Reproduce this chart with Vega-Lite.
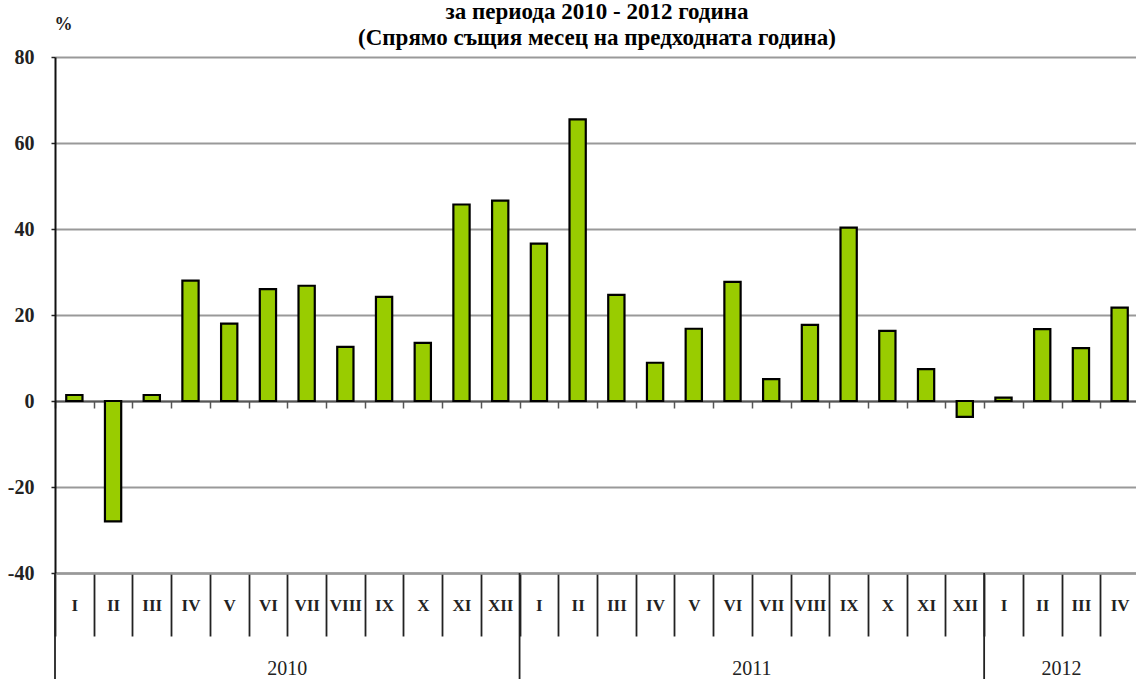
{
  "$schema": "https://vega.github.io/schema/vega-lite/v6.json",
  "autosize": {"type": "none"},
  "width": 1084,
  "height": 516,
  "padding": {"left": 55, "top": 57, "right": 0, "bottom": 106},
  "background": "white",
  "title": {
    "text": ["за периода 2010 - 2012 година", "(Спрямо същия месец на предходната година)"],
    "anchor": "middle",
    "font": "Liberation Serif",
    "fontWeight": "bold",
    "fontSize": 23,
    "lineHeight": 26,
    "color": "#000",
    "offset": -35,
    "dx": 0
  },
  "config": {
    "view": {"stroke": null},
    "axis": {"labelFont": "Liberation Serif", "titleFont": "Liberation Serif"}
  },
  "data": {
    "values": [
      {"key": "2010-I", "month": "I", "year": "2010", "value": 1.4, "start": true},
      {"key": "2010-II", "month": "II", "year": "2010", "value": -28},
      {"key": "2010-III", "month": "III", "year": "2010", "value": 1.4},
      {"key": "2010-IV", "month": "IV", "year": "2010", "value": 28},
      {"key": "2010-V", "month": "V", "year": "2010", "value": 18},
      {"key": "2010-VI", "month": "VI", "year": "2010", "value": 26},
      {"key": "2010-VII", "month": "VII", "year": "2010", "value": 26.8, "label": "2010"},
      {"key": "2010-VIII", "month": "VIII", "year": "2010", "value": 12.6},
      {"key": "2010-IX", "month": "IX", "year": "2010", "value": 24.2},
      {"key": "2010-X", "month": "X", "year": "2010", "value": 13.5},
      {"key": "2010-XI", "month": "XI", "year": "2010", "value": 45.7},
      {"key": "2010-XII", "month": "XII", "year": "2010", "value": 46.6},
      {"key": "2011-I", "month": "I", "year": "2011", "value": 36.6, "start": true},
      {"key": "2011-II", "month": "II", "year": "2011", "value": 65.5},
      {"key": "2011-III", "month": "III", "year": "2011", "value": 24.7},
      {"key": "2011-IV", "month": "IV", "year": "2011", "value": 8.9},
      {"key": "2011-V", "month": "V", "year": "2011", "value": 16.8},
      {"key": "2011-VI", "month": "VI", "year": "2011", "value": 27.7},
      {"key": "2011-VII", "month": "VII", "year": "2011", "value": 5.1, "label": "2011"},
      {"key": "2011-VIII", "month": "VIII", "year": "2011", "value": 17.7},
      {"key": "2011-IX", "month": "IX", "year": "2011", "value": 40.3},
      {"key": "2011-X", "month": "X", "year": "2011", "value": 16.3},
      {"key": "2011-XI", "month": "XI", "year": "2011", "value": 7.4},
      {"key": "2011-XII", "month": "XII", "year": "2011", "value": -3.7},
      {"key": "2012-I", "month": "I", "year": "2012", "value": 0.8, "start": true},
      {"key": "2012-II", "month": "II", "year": "2012", "value": 16.7},
      {"key": "2012-III", "month": "III", "year": "2012", "value": 12.3, "label": "2012"},
      {"key": "2012-IV", "month": "IV", "year": "2012", "value": 21.7}
    ]
  },
  "resolve": {"axis": {"x": "independent"}},
  "layer": [
    {
      "mark": {"type": "bar", "width": {"band": 0.42}, "fill": "#99cc00", "stroke": "#000", "strokeWidth": 2.2},
      "encoding": {
        "x": {
          "field": "key", "type": "nominal", "sort": null,
          "scale": {"paddingInner": 0, "paddingOuter": 0, "domain": ["2010-I","2010-II","2010-III","2010-IV","2010-V","2010-VI","2010-VII","2010-VIII","2010-IX","2010-X","2010-XI","2010-XII","2011-I","2011-II","2011-III","2011-IV","2011-V","2011-VI","2011-VII","2011-VIII","2011-IX","2011-X","2011-XI","2011-XII","2012-I","2012-II","2012-III","2012-IV"]},
          "axis": {
            "orient": "bottom", "title": null,
            "labelExpr": "split(datum.label, '-')[1]",
            "labelAngle": 0, "labelFontSize": 17, "labelFontWeight": "bold", "labelColor": "#222",
            "labelPadding": -31, "labelBaseline": "middle",
            "tickBand": "extent", "tickSize": 63, "tickColor": "#222", "tickWidth": 1.8,
            "domain": true, "domainColor": "#999", "domainWidth": 2.5,
            "grid": false
          }
        },
        "y": {
          "field": "value", "type": "quantitative",
          "scale": {"domain": [-40, 80], "nice": false, "zero": false},
          "axis": {
            "values": [-40, -20, 0, 20, 40, 60, 80],
            "labelExpr": "toString(datum.value)",
            "title": "%", "titleAngle": 0, "titleX": -1, "titleY": -33, "titleAlign": "left", "titleBaseline": "middle",
            "titleFontSize": 18, "titleFontWeight": "bold", "titleColor": "#222",
            "labelFontSize": 20, "labelFontWeight": "bold", "labelColor": "#222", "labelPadding": 17,
            "tickSize": 4, "tickColor": "#222", "tickWidth": 1.5,
            "domainColor": "#111", "domainWidth": 2,
            "grid": true, "gridColor": "#999", "gridWidth": 2
          }
        }
      }
    },
    {
      "transform": [{"filter": "datum.start"}],
      "mark": {"type": "rule", "color": "#222", "strokeWidth": 1.8},
      "encoding": {
        "x": {
          "field": "key", "type": "nominal", "sort": null, "bandPosition": 0,
          "axis": {
            "orient": "bottom", "offset": -172, "title": null, "labels": false,
            "tickBand": "extent", "tickSize": 7, "tickColor": "#555", "tickWidth": 1.5,
            "domain": true, "domainColor": "#555", "domainWidth": 2, "grid": false
          }
        },
        "y": {"datum": -40},
        "y2": {"datum": -66}
      }
    },
    {
      "transform": [{"filter": "datum.label"}],
      "mark": {"type": "text", "font": "Liberation Serif", "fontSize": 20, "color": "#222", "baseline": "middle", "align": "center"},
      "encoding": {
        "x": {"field": "key", "type": "nominal", "sort": null, "bandPosition": 0, "axis": null},
        "y": {"datum": -62.4},
        "text": {"field": "label"}
      }
    }
  ]
}
